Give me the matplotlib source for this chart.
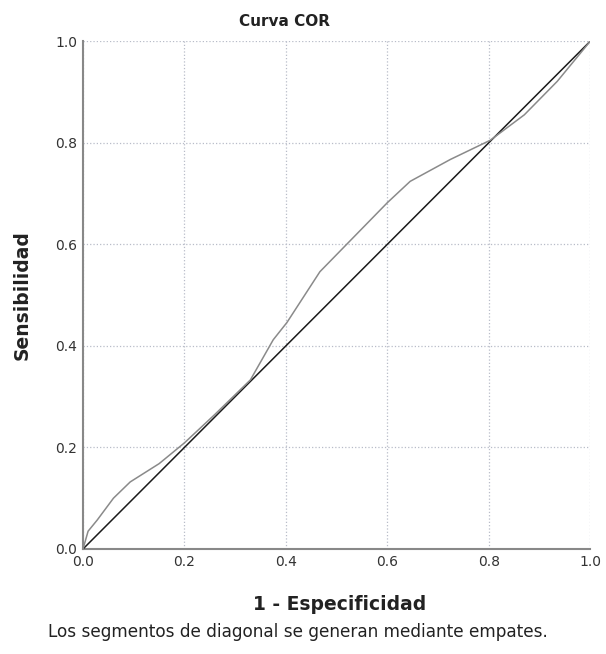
import matplotlib
matplotlib.use('Agg')
import matplotlib.pyplot as plt

# ROC curve points
fpr = [0.0, 0.01, 0.028, 0.06, 0.093, 0.15, 0.2, 0.26, 0.33, 0.375, 0.402, 0.467, 0.6, 0.645, 0.724, 0.803, 0.87, 0.935, 1.0]
tpr = [0.0, 0.035, 0.057, 0.10, 0.132, 0.168, 0.209, 0.265, 0.333, 0.412, 0.446, 0.546, 0.682, 0.724, 0.767, 0.805, 0.855, 0.921, 1.0]
diag = [0.0, 1.0]
ticks = [0.0, 0.2, 0.4, 0.6, 0.8, 1.0]
tick_labels = ['0.0', '0.2', '0.4', '0.6', '0.8', '1.0']

plt.rcParams['font.family'] = ['DejaVu Sans']

fig = plt.figure(figsize=(6.06, 6.54), dpi=100)
ax = fig.add_axes([0.137, 0.1606, 0.837, 0.7764])

ax.plot(diag, diag, color='#1a1a1a', lw=1.1, zorder=3)
ax.plot(fpr, tpr, color='#8a8a8a', lw=1.1, zorder=4)

ax.set_xlim(0, 1)
ax.set_ylim(0, 1)
ax.set_xticks(ticks, tick_labels)
ax.set_yticks(ticks, tick_labels)
ax.tick_params(length=0, labelsize=10, colors='#333333', pad=4)
ax.grid(True, color='#b8bcc8', ls=':', lw=0.9)
ax.set_axisbelow(True)
for s in ['top', 'right']:
    ax.spines[s].set_visible(False)
for s in ['left', 'bottom']:
    ax.spines[s].set_color('#888888')
    ax.spines[s].set_linewidth(1.5)

fig.text(0.469, 0.967, 'Curva COR', ha='center', va='center', fontsize=11, fontweight='bold', color='#222222')
fig.text(0.036, 0.549, 'Sensibilidad', ha='center', va='center', rotation=90, fontsize=13.5, fontweight='bold', color='#222222')
fig.text(0.561, 0.076, '1 - Especificidad', ha='center', va='center', fontsize=13.5, fontweight='bold', color='#222222')
fig.text(0.079, 0.034, 'Los segmentos de diagonal se generan mediante empates.', ha='left', va='center', fontsize=12.2, color='#222222')

plt.savefig('out.png', dpi=100)
